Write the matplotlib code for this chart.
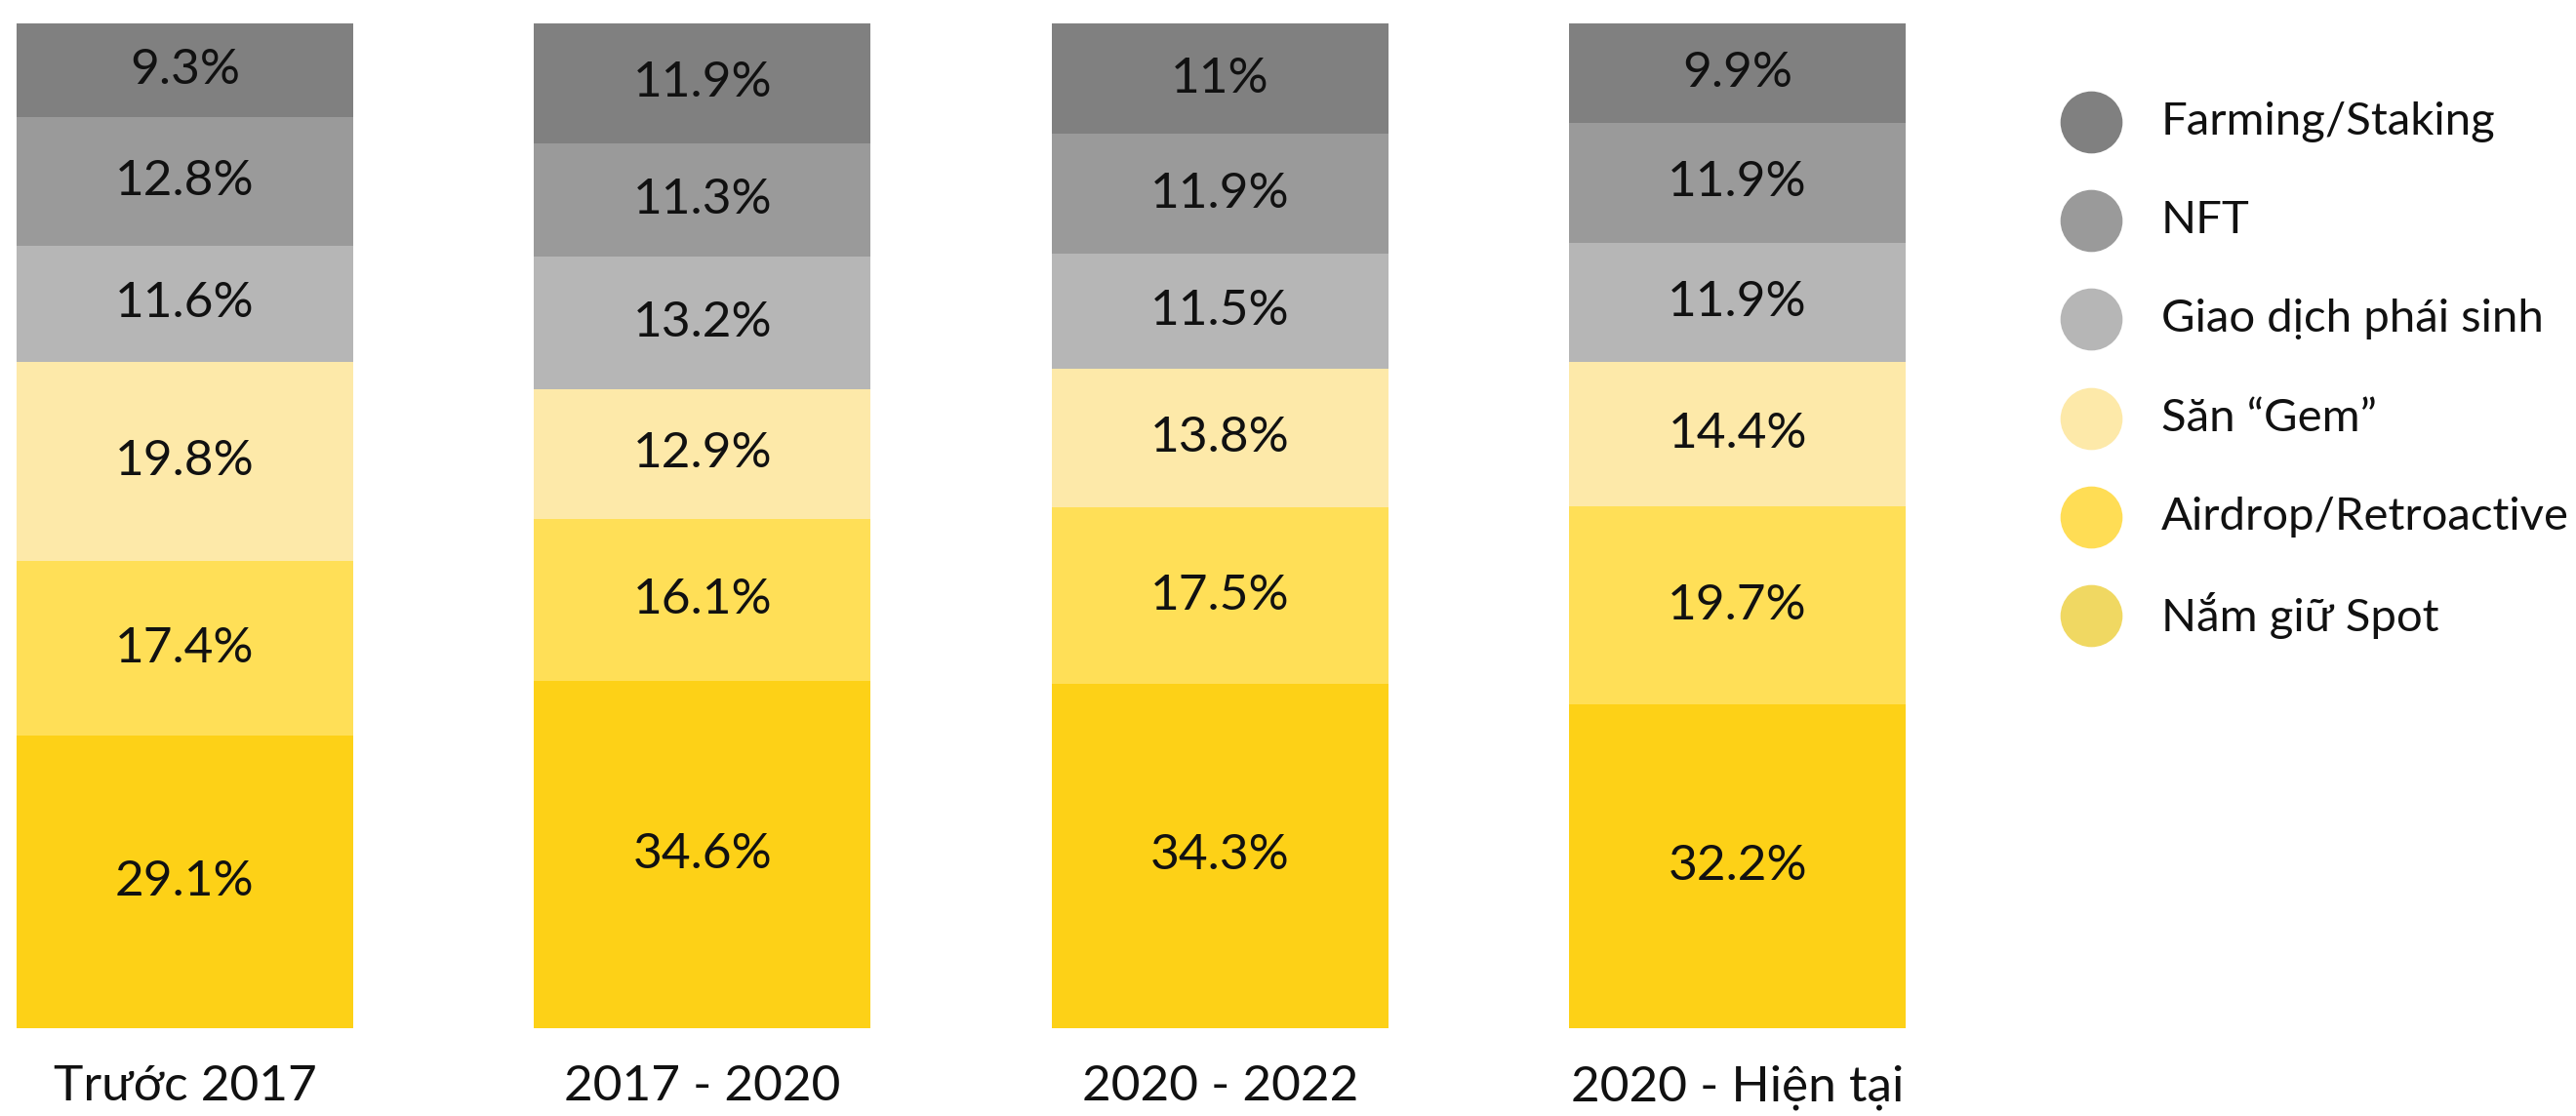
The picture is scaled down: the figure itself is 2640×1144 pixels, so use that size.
import matplotlib
matplotlib.use("Agg")
import matplotlib.pyplot as plt
from matplotlib.transforms import ScaledTranslation
import numpy as np

# Periods and segment shares (%), stacked bottom -> top
periods = ["Trước 2017", "2017 - 2020", "2020 - 2022", "2020 - Hiện tại"]
categories = ["Nắm giữ Spot", "Airdrop/Retroactive", "Săn “Gem”",
              "Giao dịch phái sinh", "NFT", "Farming/Staking"]
spot = [29.1, 34.6, 34.3, 32.2]
airdrop = [17.4, 16.1, 17.5, 19.7]
gem = [19.8, 12.9, 13.8, 14.4]
derivatives = [11.6, 13.2, 11.5, 11.9]
nft = [12.8, 11.3, 11.9, 11.9]
farming = [9.3, 11.9, 11.0, 9.9]
series = [spot, airdrop, gem, derivatives, nft, farming]

bar_colors = ["#fdd117", "#ffdf57", "#fde9a9", "#b6b6b6", "#9a9a9a", "#808080"]
legend_colors = ["#f0d862", "#ffdd55", "#fde9a9", "#b6b6b6", "#9a9a9a", "#808080"]

FONT = ["Lato", "Inter", "DejaVu Sans"]
plt.rcParams["font.family"] = FONT

W, H = 2640, 1144
fig = plt.figure(figsize=(W / 100, H / 100), dpi=100)

# bar area: 17..1953 px horizontally, 24..1054 px vertically
ax = fig.add_axes([17 / W, (H - 1054) / H, 1936 / W, 1030 / H])
x = np.arange(len(periods))
width = 0.65
bottom = np.zeros(len(periods))
for vals, color in zip(series, bar_colors):
    vals = np.array(vals)
    ax.bar(x, vals, width, bottom=bottom, color=color, linewidth=0)
    for xi, b, v in zip(x, bottom, vals):
        ax.text(xi, b + v / 2, f"{v:g}%", ha="center", va="center",
                fontsize=37, color="#111111")
    bottom += vals

ax.set_xlim(-0.325, 3.325)
ax.set_ylim(0, 100)
ax.axis("off")

# period labels under the bars
label_shift = ScaledTranslation(0, -(1128 - 1054) / 100, fig.dpi_scale_trans)
for xi, label in zip(x, periods):
    ax.text(xi, 0, label, ha="center", va="baseline", fontsize=37,
            color="#111111", transform=ax.get_xaxis_transform() + label_shift)

# legend drawn by hand: dots + labels, top entry first
lax = fig.add_axes([0, 0, 1, 1])
lax.set_xlim(0, W)
lax.set_ylim(H, 0)
lax.axis("off")
rows_y = 125 + 101.2 * np.arange(len(categories))
for yy, name, color in zip(rows_y, categories[::-1], legend_colors[::-1]):
    lax.scatter([2143], [yy], s=2100, color=color, linewidths=0)
    lax.text(2215, yy, name, ha="left", va="center", fontsize=34, color="#111111")

fig.savefig("out.png", dpi=100)
